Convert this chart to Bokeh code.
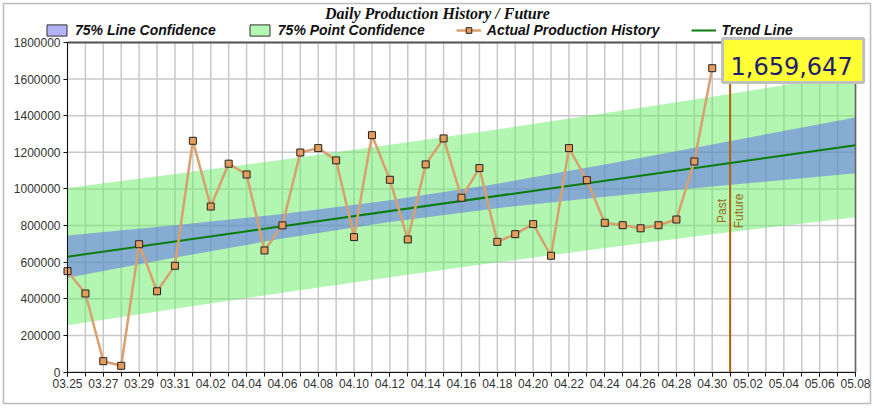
import numpy as np
from bokeh.plotting import figure
from bokeh.models import (ColumnDataSource, FixedTicker, Label, Legend, LegendItem,
                          NumeralTickFormatter, Range1d, BoxAnnotation)
from bokeh.embed import file_html
from bokeh.resources import INLINE

# ---------------- data ----------------
chart_title = "Daily Production History / Future"
day_tick_labels = ["03.25", "03.27", "03.29", "03.31", "04.02", "04.04", "04.06", "04.08",
                   "04.10", "04.12", "04.14", "04.16", "04.18", "04.20", "04.22", "04.24",
                   "04.26", "04.28", "04.30", "05.02", "05.04", "05.06", "05.08"]
n_days = 45  # 03.25 .. 05.08

production = [551000, 429000, 59000, 34000, 698000, 441000, 580000, 1263000, 904000,
              1138000, 1079000, 664000, 801000, 1199000, 1223000, 1156000, 737000,
              1294000, 1050000, 724000, 1134000, 1276000, 952000, 1114000, 711000,
              753000, 808000, 635000, 1223000, 1048000, 815000, 802000, 785000,
              802000, 833000, 1150000, 1659647]

trend_days = [0, 44]
trend_values = [630000, 1238500]

band_days = [0, 6, 12, 18, 24, 30, 36, 44]
line_conf_upper = [745000, 801000, 863000, 938000, 1029000, 1133000, 1243000, 1390000]
line_conf_lower = [515000, 625000, 729000, 820000, 895000, 957000, 1013000, 1086000]
point_conf_upper = [1005000, 1081000, 1159000, 1241000, 1325000, 1413000, 1503000, 1630000]
point_conf_lower = [255000, 345000, 433000, 517000, 599000, 677000, 753000, 846000]

split_day = 37          # 05.01 : past / future boundary
y_max = 1800000
y_ticks = list(range(0, y_max + 1, 200000))

# ---------------- layout (pixels) ----------------
W, H = 874, 408
PLOT_L, PLOT_R, PLOT_T, PLOT_B = 67, 855, 42, 371.5
x_per_px = (n_days - 1) / (PLOT_R - PLOT_L)
y_per_px = y_max / (PLOT_B - PLOT_T)
x_range = Range1d(-PLOT_L * x_per_px, (n_days - 1) + (W - PLOT_R) * x_per_px)
y_range = Range1d(-(H - PLOT_B) * y_per_px, y_max + PLOT_T * y_per_px)

p = figure(width=W, height=H, output_backend="svg", toolbar_location=None, title=None,
           x_range=x_range, y_range=y_range,
           min_border_left=0, min_border_right=0, min_border_top=0, min_border_bottom=0)
p.background_fill_color = "white"
p.border_fill_color = "white"
p.outline_line_color = None
p.xgrid.visible = False
p.ygrid.visible = False

days = list(range(len(production)))
all_days = list(range(n_days))
src = ColumnDataSource(dict(day=days, prod=production))

# grid lines (restricted to the plotting area)
p.segment(x0=all_days, y0=[0] * n_days, x1=all_days, y1=[y_max] * n_days,
          line_color="#c8c8c8", line_width=1.5)
p.segment(x0=[0] * len(y_ticks), y0=y_ticks, x1=[n_days - 1] * len(y_ticks), y1=y_ticks,
          line_color="#c8c8c8", line_width=1.5)

# bands
p.varea(x=band_days, y1=point_conf_lower, y2=point_conf_upper,
        fill_color="#66ee66", fill_alpha=0.5)
p.varea(x=band_days, y1=line_conf_lower, y2=line_conf_upper,
        fill_color="#5a62f0", fill_alpha=0.5)

# plot-area border (top and right)
p.segment(x0=[0], y0=[y_max], x1=[n_days - 1], y1=[y_max], line_color="#555555", line_width=2)
p.segment(x0=[n_days - 1], y0=[0], x1=[n_days - 1], y1=[y_max], line_color="#666666", line_width=1.5)

# past / future divider
p.segment(x0=[split_day], y0=[0], x1=[split_day], y1=[y_max], line_color="#b4610a", line_width=2)

# trend
r_trend = p.line(trend_days, trend_values, line_color="#0a7d0a", line_width=2)

# actual
r_line = p.line("day", "prod", source=src, line_color="#d9a06e", line_width=2.5)
r_pts = p.scatter("day", "prod", source=src, marker="square", size=7,
                  fill_color="#e59b5a", line_color="#222222", line_width=1)

# legend swatch renderers (draw nothing in the plot)
nan = float("nan")
r_lc = p.quad(left=[nan], right=[nan], top=[nan], bottom=[nan],
              fill_color="#b2b2f6", line_color="#333333", line_width=1)
r_pc = p.quad(left=[nan], right=[nan], top=[nan], bottom=[nan],
              fill_color="#b3f7b3", line_color="#333333", line_width=1)

# axes
xa = p.xaxis[0]
xa.fixed_location = 0
xa.bounds = (0, n_days - 1)
xa.ticker = FixedTicker(ticks=list(range(0, n_days, 2)), minor_ticks=all_days)
xa.major_label_overrides = {i * 2: lab for i, lab in enumerate(day_tick_labels)}
ya = p.yaxis[0]
ya.fixed_location = 0
ya.bounds = (0, y_max)
ya.ticker = FixedTicker(ticks=y_ticks)
ya.formatter = NumeralTickFormatter(format="0")
for ax in (xa, ya):
    ax.axis_line_color = "#111111"
    ax.major_tick_line_color = "#111111"
    ax.minor_tick_line_color = "#111111"
    ax.major_tick_in = 0
    ax.major_tick_out = 4
    ax.minor_tick_in = 0
    ax.minor_tick_out = 4
    ax.major_label_text_font = "Liberation Sans"
    ax.major_label_text_font_size = "12px"
    ax.major_label_text_color = "#333333"
    ax.major_label_standoff = 3
ya.minor_tick_line_color = None

# past / future labels
p.add_layout(Label(x=split_day, y=880000, text="Past", angle=90, angle_units="deg",
                   text_align="center", text_baseline="bottom", x_offset=-1,
                   text_font="Liberation Sans", text_font_size="12px", text_color="#9a6a10"))
p.add_layout(Label(x=split_day, y=880000, text="Future", angle=90, angle_units="deg",
                   text_align="center", text_baseline="top", x_offset=2,
                   text_font="Liberation Sans", text_font_size="12px", text_color="#9a6a10"))

# callout with last value
p.add_layout(Label(x=722, y=H - 38, x_units="screen", y_units="screen",
                   text=f"{production[-1]:,}", text_align="left", text_baseline="top",
                   text_font="DejaVu Sans", text_font_size="24px", text_color="#1e1e6e",
                   background_fill_color="#ffff33", border_line_color="#c0c0c0",
                   border_line_width=3,
                   padding=dict(left=8, right=11, top=18, bottom=8)))

# title
p.add_layout(Label(x=437, y=H - 4, x_units="screen", y_units="screen", text=chart_title,
                   text_align="center", text_baseline="top",
                   text_font="Liberation Serif", text_font_style="bold italic",
                   text_font_size="16px", text_color="#111111"))

# legend
legend = Legend(items=[
    LegendItem(label="75% Line Confidence", renderers=[r_lc]),
    LegendItem(label="75% Point Confidence", renderers=[r_pc]),
    LegendItem(label="Actual Production History", renderers=[r_line, r_pts]),
    LegendItem(label="Trend Line", renderers=[r_trend]),
], orientation="horizontal", location=(44, H - 38))
legend.glyph_width = 25
legend.glyph_height = 14
legend.label_height = 16
legend.label_standoff = 6
legend.spacing = 31
legend.padding = 0
legend.margin = 0
legend.border_line_color = None
legend.background_fill_alpha = 0
legend.label_text_font = "Liberation Sans"
legend.label_text_font_style = "bold italic"
legend.label_text_font_size = "14px"
legend.label_text_color = "#111111"
p.add_layout(legend, "center")

# outer chart border
p.add_layout(BoxAnnotation(left=3, right=870, bottom=5, top=H - 3,
                           left_units="screen", right_units="screen",
                           top_units="screen", bottom_units="screen",
                           fill_color=None, fill_alpha=0, line_color="#222222", line_width=1.5))

open("out.html", "w").write(file_html(p, INLINE))
